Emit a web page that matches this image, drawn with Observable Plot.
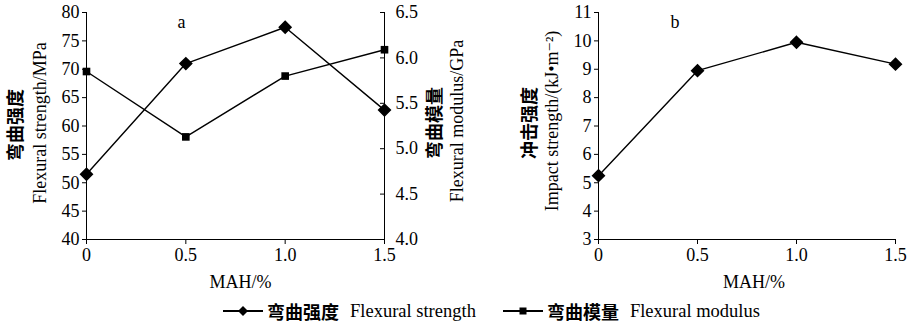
<!DOCTYPE html>
<html>
<head>
<meta charset="utf-8">
<script src="https://cdn.jsdelivr.net/npm/d3@7"></script>
<script src="https://cdn.jsdelivr.net/npm/@observablehq/plot@0.6"></script>
<style>
  body { margin: 0; background: white; }
  #wrap { position: relative; width: 910px; height: 323px; background: white; overflow: hidden;
          font-family: "Liberation Serif", "Times New Roman", Tinos, "DejaVu Serif", serif; color: black; }
  #pa { position: absolute; left: 0; top: 0; z-index: 2; }
  #pb { position: absolute; left: 455px; top: 0; z-index: 1; }
  #legend { position: absolute; left: 223px; top: 298px; display: flex; gap: 27px; font-size: 18.5px; line-height: normal; }
  #legend .item { display: flex; align-items: center; white-space: nowrap; }
  #legend .zh { font-family: "Noto Sans CJK SC", sans-serif; font-weight: bold; font-size: 18px; line-height: normal; margin-left: 4px; margin-right: 11px; }
</style>
</head>
<body>
<div id="wrap">
  <div id="pb"></div>
  <div id="pa"></div>
  <div id="legend"></div>
</div>
<script>
// ---- data ----
const mah = [0, 0.5, 1.0, 1.5];
const flexuralStrength = [51.5, 71.0, 77.4, 62.8];   // MPa (left axis, panel a)
const flexuralModulus = [5.85, 5.13, 5.80, 6.09];    // GPa (right axis, panel a)
const impactStrength = [5.25, 8.95, 9.95, 9.18];     // kJ/m2 (panel b)
const xTicks = [0, 0.5, 1.0, 1.5];
const strengthTicks = [40, 45, 50, 55, 60, 65, 70, 75, 80];
const modulusTicks = [4.0, 4.5, 5.0, 5.5, 6.0, 6.5];
const impactTicks = [3, 4, 5, 6, 7, 8, 9, 10, 11];

const FONT = '"Liberation Serif", "Times New Roman", Tinos, "DejaVu Serif", serif';
const ZH = '"Noto Sans CJK SC", sans-serif';

// map modulus (4.0–6.5) onto strength scale (40–80)
const toLeft = v => 40 + (v - 4) * 16;
const fromLeft = d => (d - 40) / 16 + 4;
const xFmt = d => d === 0 ? "0" : d.toFixed(1);

const rowsS = mah.map((x, i) => ({x, y: flexuralStrength[i]}));
const rowsM = mah.map((x, i) => ({x, y: toLeft(flexuralModulus[i])}));
const rowsI = mah.map((x, i) => ({x, y: impactStrength[i]}));
const xMax = d3.max(mah);

const common = {
  style: {fontFamily: FONT, fontSize: "18px", color: "black", background: "transparent", overflow: "visible"}
};
const T = {fontFamily: FONT, fontSize: 18};
const Z = {fontFamily: ZH, fontWeight: "bold", fontSize: 18};

const pa = Plot.plot({
  ...common,
  width: 475, height: 300,
  marginLeft: 86, marginRight: 91, marginTop: 12, marginBottom: 61,
  x: {domain: [0, 1.5]},
  y: {domain: [40, 80]},
  marks: [
    Plot.axisX({ticks: xTicks, tickFormat: xFmt, tickSize: 5, tickPadding: 4, label: null, ...T}),
    Plot.axisY({ticks: strengthTicks, tickSize: 4, tickPadding: 3, label: null, ...T}),
    Plot.axisY({anchor: "right", ticks: modulusTicks.map(toLeft), tickSize: 0, tickPadding: 11,
                tickFormat: d => fromLeft(d).toFixed(1), label: null, ...T}),
    Plot.ruleY(modulusTicks.map(toLeft), {y: d => d, x1: xMax, x2: xMax, insetLeft: -4}),
    Plot.ruleX([0]), Plot.ruleX([1.5]), Plot.ruleY([40]),
    Plot.line(rowsS, {x: "x", y: "y", stroke: "black", strokeWidth: 1.4}),
    Plot.dot(rowsS, {x: "x", y: "y", symbol: "diamond2", r: 5.3, fill: "black", stroke: "black"}),
    Plot.line(rowsM, {x: "x", y: "y", stroke: "black", strokeWidth: 1.4}),
    Plot.dot(rowsM, {x: "x", y: "y", symbol: "square", r: 4.3, fill: "black"}),
    Plot.text(["a"], {frameAnchor: "top-left", dx: 91, dy: 3, ...T}),
    Plot.text(["弯曲强度"], {frameAnchor: "left", textAnchor: "middle", dx: -70, dy: -1, rotate: -90, ...Z}),
    Plot.text(["Flexural strength/MPa"], {frameAnchor: "left", textAnchor: "middle", dx: -46, dy: -3, rotate: -90, ...T}),
    Plot.text(["弯曲模量"], {frameAnchor: "right", textAnchor: "middle", dx: 51, dy: -3, rotate: -90, ...Z}),
    Plot.text(["Flexural modulus/GPa"], {frameAnchor: "right", textAnchor: "middle", dx: 73, dy: -5, rotate: -90, ...T}),
    Plot.text(["MAH/%"], {frameAnchor: "bottom", dx: 5, dy: 48, ...T})
  ]
});
document.getElementById("pa").appendChild(pa);

const pb = Plot.plot({
  ...common,
  width: 455, height: 300,
  marginLeft: 143, marginRight: 15, marginTop: 12, marginBottom: 61,
  x: {domain: [0, 1.5]},
  y: {domain: [3, 11]},
  marks: [
    Plot.axisX({ticks: xTicks, tickFormat: xFmt, tickSize: 5, tickPadding: 4, label: null, ...T}),
    Plot.axisY({ticks: impactTicks, tickSize: 4, tickPadding: 3, label: null, ...T}),
    Plot.ruleX([0]), Plot.ruleY([3]),
    Plot.line(rowsI, {x: "x", y: "y", stroke: "black", strokeWidth: 1.4}),
    Plot.dot(rowsI, {x: "x", y: "y", symbol: "diamond2", r: 5.3, fill: "black", stroke: "black"}),
    Plot.text(["b"], {frameAnchor: "top-left", dx: 72, dy: 3, ...T}),
    Plot.text(["冲击强度"], {frameAnchor: "left", textAnchor: "middle", dx: -68, dy: -3, rotate: -90, ...Z}),
    Plot.text(["Impact strength/(kJ•m⁻²)"], {frameAnchor: "left", textAnchor: "middle", dx: -46, dy: -5, rotate: -90, ...T}),
    Plot.text(["MAH/%"], {frameAnchor: "bottom", dx: 7, dy: 48, ...T})
  ]
});
document.getElementById("pb").appendChild(pb);

// ---- legend ----
const legendItems = [
  {zh: "弯曲强度", en: "Flexural strength", sym: "diamond"},
  {zh: "弯曲模量", en: "Flexural modulus", sym: "square"}
];
const leg = document.getElementById("legend");
for (const it of legendItems) {
  const d = document.createElement("div");
  d.className = "item";
  const shape = it.sym === "diamond"
    ? '<path d="M20,5 L25,10 L20,15 L15,10 Z" fill="black"/>'
    : '<rect x="16.5" y="6.5" width="7" height="7" fill="black"/>';
  d.innerHTML = `<svg width="40" height="20"><line x1="0" y1="10" x2="40" y2="10" stroke="black" stroke-width="1.8"/>${shape}</svg>`
    + `<span class="zh">${it.zh}</span><span class="en">${it.en}</span>`;
  leg.appendChild(d);
}
</script>
</body>
</html>
